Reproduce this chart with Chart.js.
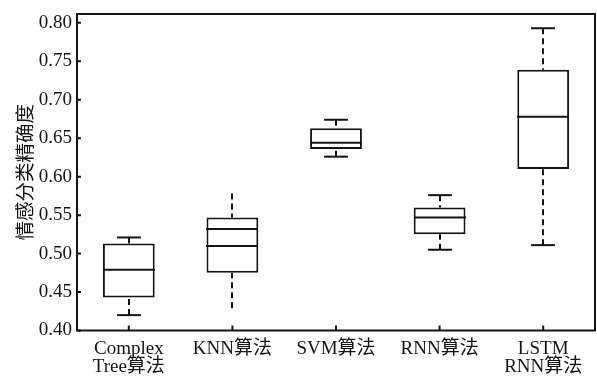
<!DOCTYPE html>
<html>
<head>
<meta charset="utf-8">
<script src="https://cdn.jsdelivr.net/npm/chart.js@4.4.1/dist/chart.umd.min.js"></script>
<style>
  html, body { margin: 0; padding: 0; background: #fff; }
  #wrap { width: 597px; height: 378px; }
</style>
</head>
<body>
<div id="wrap"><canvas id="chart" width="597" height="378"></canvas></div>
<script>
  // box plot values
  const categories = [['Complex', 'Tree算法'], 'KNN算法', 'SVM算法', 'RNN算法', ['LSTM', 'RNN算法']];
  const whiskerLow = [0.420, 0.429, 0.626, 0.505, 0.511];
  const boxLow = [0.443, 0.475, 0.636, 0.525, 0.610];
  const medians = [0.479, 0.510, 0.644, 0.547, 0.678];
  const innerLines = [null, 0.532, null, null, null];
  const boxHigh = [0.513, 0.547, 0.663, 0.560, 0.739];
  const whiskerHigh = [0.521, 0.578, 0.674, 0.576, 0.793];
  const hasCaps = [true, false, true, true, true];
  const yTicks = [0.40, 0.45, 0.50, 0.55, 0.60, 0.65, 0.70, 0.75, 0.80];
  const yTitle = '情感分类精确度';

  const ink = '#141414';
  const fontFamily = '"Liberation Serif", "Noto Sans CJK SC", serif';

  const boxMarks = {
    id: 'boxMarks',
    afterDatasetsDraw(chart) {
      const { ctx, scales: { x, y } } = chart;
      const band = x.getPixelForValue(1) - x.getPixelForValue(0);
      const halfBox = band * 0.25;
      const halfCap = band * 0.115;
      ctx.save();
      ctx.strokeStyle = ink;
      ctx.lineWidth = 2;
      categories.forEach((_, i) => {
        const cx = Math.round(x.getPixelForValue(i));
        const line = (x1, y1, x2, y2, dash) => {
          ctx.setLineDash(dash || []);
          ctx.beginPath();
          ctx.moveTo(x1, y1);
          ctx.lineTo(x2, y2);
          ctx.stroke();
        };
        // whiskers
        line(cx, y.getPixelForValue(whiskerHigh[i]), cx, y.getPixelForValue(boxHigh[i]), [6, 4]);
        line(cx, y.getPixelForValue(whiskerLow[i]), cx, y.getPixelForValue(boxLow[i]), [6, 4]);
        if (hasCaps[i]) {
          const top = y.getPixelForValue(whiskerHigh[i]);
          const bottom = y.getPixelForValue(whiskerLow[i]);
          line(cx - halfCap, top, cx + halfCap, top);
          line(cx - halfCap, bottom, cx + halfCap, bottom);
        }
        const my = y.getPixelForValue(medians[i]);
        line(cx - halfBox, my, cx + halfBox, my);
        if (innerLines[i] !== null) {
          const iy = y.getPixelForValue(innerLines[i]);
          line(cx - halfBox, iy, cx + halfBox, iy);
        }
      });
      ctx.restore();
    },
    afterDraw(chart) {
      const { ctx, chartArea: area, scales: { x, y } } = chart;
      ctx.save();
      ctx.strokeStyle = ink;
      ctx.lineWidth = 2;
      ctx.strokeRect(area.left, area.top, area.right - area.left, area.bottom - area.top);
      ctx.beginPath();
      y.ticks.forEach((t) => {
        const py = y.getPixelForValue(t.value);
        ctx.moveTo(area.left, py);
        ctx.lineTo(area.left + 4, py);
      });
      x.ticks.forEach((t, i) => {
        const px = x.getPixelForTick(i);
        ctx.moveTo(px, area.bottom);
        ctx.lineTo(px, area.bottom - 5);
      });
      ctx.stroke();
      ctx.restore();
    }
  };

  new Chart(document.getElementById('chart'), {
    type: 'bar',
    data: {
      labels: categories,
      datasets: [{
        data: boxLow.map((v, i) => [v, boxHigh[i]]),
        backgroundColor: '#ffffff',
        borderColor: ink,
        borderWidth: 2,
        borderSkipped: false,
        barPercentage: 0.5,
        categoryPercentage: 1
      }]
    },
    options: {
      responsive: false,
      animation: false,
      layout: { padding: { top: 12, right: 2, left: 0, bottom: 0 } },
      plugins: { legend: { display: false }, tooltip: { enabled: false } },
      scales: {
        x: {
          offset: true,
          grid: { display: false, drawTicks: false },
          border: { display: false },
          ticks: {
            color: ink,
            padding: 9,
            maxRotation: 0,
            autoSkip: false,
            font: { family: fontFamily, size: 19, lineHeight: '18.5px' }
          },
          afterFit(scale) { scale.height = 47.5; }
        },
        y: {
          min: 0.4,
          max: 0.8115,
          grid: { display: false, drawTicks: false },
          border: { display: false },
          afterBuildTicks(scale) { scale.ticks = yTicks.map((v) => ({ value: v })); },
          ticks: {
            color: ink,
            padding: 5,
            font: { family: fontFamily, size: 19, lineHeight: '18px' },
            callback: (value) => Number(value).toFixed(2)
          },
          title: {
            display: true,
            text: yTitle,
            color: ink,
            padding: { top: 15, bottom: 0 },
            font: { family: fontFamily, size: 19.5 }
          },
          afterFit(scale) { scale.width = 77; }
        }
      }
    },
    plugins: [boxMarks]
  });
</script>
</body>
</html>
